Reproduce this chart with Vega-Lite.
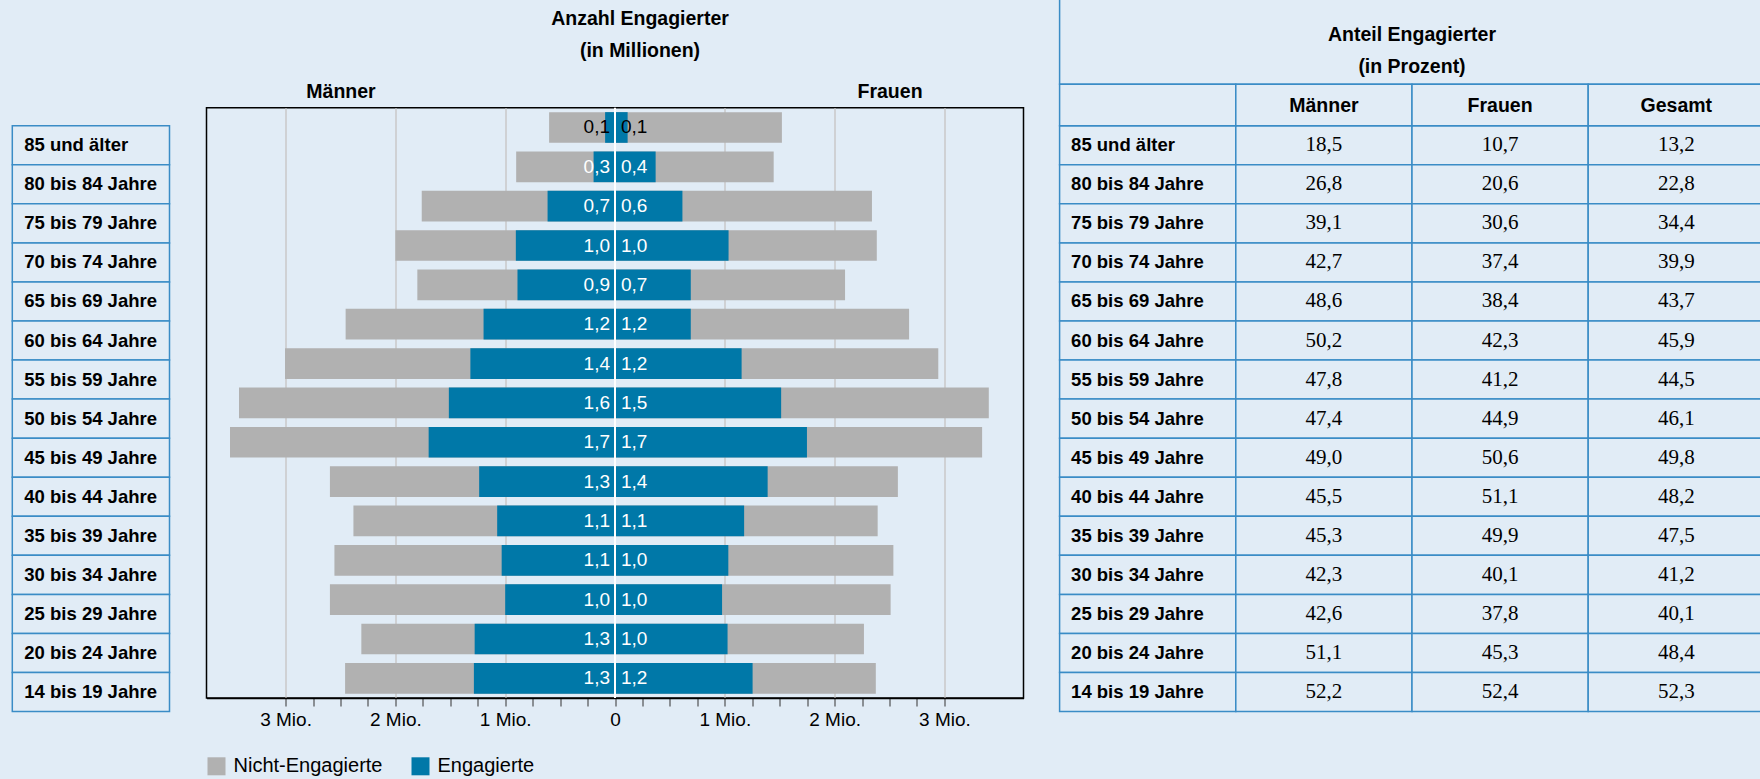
{
  "$schema": "https://vega.github.io/schema/vega-lite/v6.json",
  "width": 817,
  "height": 590.2,
  "autosize": {"type": "none"},
  "padding": {"left": 206.5, "top": 107.8, "right": 736.5, "bottom": 81},
  "background": "#e1ecf6",
  "config": {
    "view": {"stroke": "#000000", "strokeWidth": 1.5, "fill": null},
    "font": "Liberation Sans",
    "text": {"font": "Liberation Sans", "color": "#000000"},
    "locale": {"number": {"decimal": ",", "thousands": ".", "grouping": [3], "currency": ["", " €"]}}
  },
  "datasets": {
    "pyramide": [
      {"alter": "85 und älter", "geschlecht": "Männer", "gesamt": -0.60, "engagiert": -0.09, "beschriftung": 0.1},
      {"alter": "85 und älter", "geschlecht": "Frauen", "gesamt": 1.52, "engagiert": 0.115, "beschriftung": 0.1},
      {"alter": "80 bis 84 Jahre", "geschlecht": "Männer", "gesamt": -0.90, "engagiert": -0.195, "beschriftung": 0.3},
      {"alter": "80 bis 84 Jahre", "geschlecht": "Frauen", "gesamt": 1.445, "engagiert": 0.37, "beschriftung": 0.4},
      {"alter": "75 bis 79 Jahre", "geschlecht": "Männer", "gesamt": -1.76, "engagiert": -0.614, "beschriftung": 0.7},
      {"alter": "75 bis 79 Jahre", "geschlecht": "Frauen", "gesamt": 2.34, "engagiert": 0.614, "beschriftung": 0.6},
      {"alter": "70 bis 74 Jahre", "geschlecht": "Männer", "gesamt": -2.00, "engagiert": -0.903, "beschriftung": 1.0},
      {"alter": "70 bis 74 Jahre", "geschlecht": "Frauen", "gesamt": 2.384, "engagiert": 1.034, "beschriftung": 1.0},
      {"alter": "65 bis 69 Jahre", "geschlecht": "Männer", "gesamt": -1.80, "engagiert": -0.888, "beschriftung": 0.9},
      {"alter": "65 bis 69 Jahre", "geschlecht": "Frauen", "gesamt": 2.095, "engagiert": 0.69, "beschriftung": 0.7},
      {"alter": "60 bis 64 Jahre", "geschlecht": "Männer", "gesamt": -2.453, "engagiert": -1.197, "beschriftung": 1.2},
      {"alter": "60 bis 64 Jahre", "geschlecht": "Frauen", "gesamt": 2.678, "engagiert": 0.69, "beschriftung": 1.2},
      {"alter": "55 bis 59 Jahre", "geschlecht": "Männer", "gesamt": -3.005, "engagiert": -1.317, "beschriftung": 1.4},
      {"alter": "55 bis 59 Jahre", "geschlecht": "Frauen", "gesamt": 2.944, "engagiert": 1.153, "beschriftung": 1.2},
      {"alter": "50 bis 54 Jahre", "geschlecht": "Männer", "gesamt": -3.424, "engagiert": -1.513, "beschriftung": 1.6},
      {"alter": "50 bis 54 Jahre", "geschlecht": "Frauen", "gesamt": 3.404, "engagiert": 1.513, "beschriftung": 1.5},
      {"alter": "45 bis 49 Jahre", "geschlecht": "Männer", "gesamt": -3.506, "engagiert": -1.697, "beschriftung": 1.7},
      {"alter": "45 bis 49 Jahre", "geschlecht": "Frauen", "gesamt": 3.343, "engagiert": 1.748, "beschriftung": 1.7},
      {"alter": "40 bis 44 Jahre", "geschlecht": "Männer", "gesamt": -2.596, "engagiert": -1.237, "beschriftung": 1.3},
      {"alter": "40 bis 44 Jahre", "geschlecht": "Frauen", "gesamt": 2.576, "engagiert": 1.39, "beschriftung": 1.4},
      {"alter": "35 bis 39 Jahre", "geschlecht": "Männer", "gesamt": -2.382, "engagiert": -1.073, "beschriftung": 1.1},
      {"alter": "35 bis 39 Jahre", "geschlecht": "Frauen", "gesamt": 2.392, "engagiert": 1.176, "beschriftung": 1.1},
      {"alter": "30 bis 34 Jahre", "geschlecht": "Männer", "gesamt": -2.555, "engagiert": -1.032, "beschriftung": 1.1},
      {"alter": "30 bis 34 Jahre", "geschlecht": "Frauen", "gesamt": 2.535, "engagiert": 1.032, "beschriftung": 1.0},
      {"alter": "25 bis 29 Jahre", "geschlecht": "Männer", "gesamt": -2.596, "engagiert": -1.0, "beschriftung": 1.0},
      {"alter": "25 bis 29 Jahre", "geschlecht": "Frauen", "gesamt": 2.51, "engagiert": 0.975, "beschriftung": 1.0},
      {"alter": "20 bis 24 Jahre", "geschlecht": "Männer", "gesamt": -2.31, "engagiert": -1.278, "beschriftung": 1.3},
      {"alter": "20 bis 24 Jahre", "geschlecht": "Frauen", "gesamt": 2.267, "engagiert": 1.025, "beschriftung": 1.0},
      {"alter": "14 bis 19 Jahre", "geschlecht": "Männer", "gesamt": -2.458, "engagiert": -1.285, "beschriftung": 1.3},
      {"alter": "14 bis 19 Jahre", "geschlecht": "Frauen", "gesamt": 2.375, "engagiert": 1.253, "beschriftung": 1.2}
    ],
    "anteil": [
      {"alter": "85 und älter", "Männer": 18.5, "Frauen": 10.7, "Gesamt": 13.2},
      {"alter": "80 bis 84 Jahre", "Männer": 26.8, "Frauen": 20.6, "Gesamt": 22.8},
      {"alter": "75 bis 79 Jahre", "Männer": 39.1, "Frauen": 30.6, "Gesamt": 34.4},
      {"alter": "70 bis 74 Jahre", "Männer": 42.7, "Frauen": 37.4, "Gesamt": 39.9},
      {"alter": "65 bis 69 Jahre", "Männer": 48.6, "Frauen": 38.4, "Gesamt": 43.7},
      {"alter": "60 bis 64 Jahre", "Männer": 50.2, "Frauen": 42.3, "Gesamt": 45.9},
      {"alter": "55 bis 59 Jahre", "Männer": 47.8, "Frauen": 41.2, "Gesamt": 44.5},
      {"alter": "50 bis 54 Jahre", "Männer": 47.4, "Frauen": 44.9, "Gesamt": 46.1},
      {"alter": "45 bis 49 Jahre", "Männer": 49.0, "Frauen": 50.6, "Gesamt": 49.8},
      {"alter": "40 bis 44 Jahre", "Männer": 45.5, "Frauen": 51.1, "Gesamt": 48.2},
      {"alter": "35 bis 39 Jahre", "Männer": 45.3, "Frauen": 49.9, "Gesamt": 47.5},
      {"alter": "30 bis 34 Jahre", "Männer": 42.3, "Frauen": 40.1, "Gesamt": 41.2},
      {"alter": "25 bis 29 Jahre", "Männer": 42.6, "Frauen": 37.8, "Gesamt": 40.1},
      {"alter": "20 bis 24 Jahre", "Männer": 51.1, "Frauen": 45.3, "Gesamt": 48.4},
      {"alter": "14 bis 19 Jahre", "Männer": 52.2, "Frauen": 52.4, "Gesamt": 52.3}
    ],
    "kopfzeile": [
      {"spalte": "Altersgruppe", "titel": ""},
      {"spalte": "Männer", "titel": "Männer"},
      {"spalte": "Frauen", "titel": "Frauen"},
      {"spalte": "Gesamt", "titel": "Gesamt"}
    ]
  },
  "layer": [
    {
      "data": {"name": "pyramide"},
      "layer": [
        {
          "mark": {"type": "bar"},
          "encoding": {
            "y": {"field": "alter", "type": "nominal", "sort": null,
              "scale": {"domain": ["85 und älter","80 bis 84 Jahre","75 bis 79 Jahre","70 bis 74 Jahre","65 bis 69 Jahre","60 bis 64 Jahre","55 bis 59 Jahre","50 bis 54 Jahre","45 bis 49 Jahre","40 bis 44 Jahre","35 bis 39 Jahre","30 bis 34 Jahre","25 bis 29 Jahre","20 bis 24 Jahre","14 bis 19 Jahre"], "paddingInner": 0.22, "paddingOuter": 0.11},
              "axis": null},
            "x": {"field": "gesamt", "type": "quantitative", "stack": null,
              "scale": {"domain": [-3.72, 3.72], "nice": false, "zero": false},
              "axis": {"orient": "bottom", "title": null,
                "values": [-3,-2.75,-2.5,-2.25,-2,-1.75,-1.5,-1.25,-1,-0.75,-0.5,-0.25,0,0.25,0.5,0.75,1,1.25,1.5,1.75,2,2.25,2.5,2.75,3],
                "labelExpr": "datum.value == 0 ? '0' : (abs(datum.value) % 1 == 0 ? abs(datum.value) + ' Mio.' : '')",
                "labelFont": "Liberation Sans", "labelFontSize": 19, "labelColor": "#000000", "labelPadding": 4,
                "labelOverlap": false, "labelFlush": false,
                "tickSize": 8, "tickColor": "#333333", "tickWidth": 1,
                "domainColor": "#000000", "domainWidth": 1.5,
                "grid": true,
                "gridColor": {"condition": {"test": "abs(datum.value) % 1 != 0 || datum.value == 0", "value": "rgba(0,0,0,0)"}, "value": "#c8c8c8"},
                "gridWidth": 1.5}},
            "color": {"datum": "Nicht-Engagierte", "type": "nominal",
              "scale": {"domain": ["Nicht-Engagierte", "Engagierte"], "range": ["#b1b1b1", "#0078a8"]},
              "legend": {"orient": "none", "legendX": 0, "legendY": 648.5, "direction": "horizontal", "title": null,
                "symbolType": "square", "symbolSize": 324, "symbolStrokeWidth": 0, "symbolOpacity": 1,
                "labelFont": "Liberation Sans", "labelFontSize": 20, "labelColor": "#000000", "labelOffset": 7,
                "columnPadding": 28, "padding": 0, "labelLimit": 300}}
          }
        },
        {
          "mark": {"type": "bar"},
          "encoding": {
            "y": {"field": "alter", "type": "nominal", "sort": null, "axis": null},
            "x": {"field": "engagiert", "type": "quantitative", "stack": null, "axis": null},
            "color": {"datum": "Engagierte", "type": "nominal"}
          }
        },
        {
          "data": {"values": [{}]},
          "mark": {"type": "rule", "color": "#ffffff", "strokeWidth": 2},
          "encoding": {
            "x": {"datum": 0, "type": "quantitative",
              "axis": {"orient": "top", "title": null, "values": [-2.5, 2.5],
                "labelExpr": "datum.value < 0 ? 'Männer' : 'Frauen'",
                "ticks": false, "domain": false, "grid": false,
                "labelFont": "Liberation Sans", "labelFontSize": 19.5, "labelFontWeight": "bold", "labelColor": "#000000",
                "labelPadding": 6, "labelOverlap": false, "labelFlush": false}}
          }
        },
        {
          "transform": [{"filter": "datum.geschlecht == 'Männer'"}],
          "mark": {"type": "text", "align": "right", "baseline": "middle", "dx": -5, "fontSize": 19},
          "encoding": {
            "x": {"datum": 0, "type": "quantitative", "axis": null},
            "y": {"field": "alter", "type": "nominal", "sort": null, "axis": null},
            "text": {"field": "beschriftung", "type": "quantitative", "format": ".1f"},
            "color": {"condition": {"test": "datum.beschriftung < 0.2", "value": "#000000"}, "value": "#ffffff"}
          }
        },
        {
          "transform": [{"filter": "datum.geschlecht == 'Frauen'"}],
          "mark": {"type": "text", "align": "left", "baseline": "middle", "dx": 6, "fontSize": 19},
          "encoding": {
            "x": {"datum": 0, "type": "quantitative", "axis": null},
            "y": {"field": "alter", "type": "nominal", "sort": null, "axis": null},
            "text": {"field": "beschriftung", "type": "quantitative", "format": ".1f"},
            "color": {"condition": {"test": "datum.beschriftung < 0.2", "value": "#000000"}, "value": "#ffffff"}
          }
        },
        {
          "data": {"values": [{"titel": "Anzahl Engagierter\n(in Millionen)"}]},
          "mark": {"type": "text", "align": "center", "baseline": "middle", "fontSize": 19.5, "fontWeight": "bold",
            "lineBreak": "\n", "lineHeight": 31.7, "dx": 25, "dy": -108.2},
          "encoding": {
            "x": {"datum": 0, "type": "quantitative", "axis": null},
            "y": {"datum": "85 und älter", "type": "nominal", "axis": null},
            "text": {"field": "titel", "type": "nominal"}
          }
        }
      ],
      "resolve": {"axis": {"x": "independent"}}
    },
    {
      "data": {"name": "anteil"},
      "layer": [
        {
          "mark": {"type": "rect", "fill": "#e1ecf6", "stroke": "#3a8cc6", "strokeWidth": 1.5},
          "encoding": {
            "x": {"datum": "Altersgruppe", "type": "nominal", "scale": {"type": "band", "domain": ["Altersgruppe"], "range": [-194.2, -37], "padding": 0}, "axis": null},
            "y": {"field": "alter", "type": "nominal", "sort": null,
              "scale": {"type": "band", "domain": ["85 und älter","80 bis 84 Jahre","75 bis 79 Jahre","70 bis 74 Jahre","65 bis 69 Jahre","60 bis 64 Jahre","55 bis 59 Jahre","50 bis 54 Jahre","45 bis 49 Jahre","40 bis 44 Jahre","35 bis 39 Jahre","30 bis 34 Jahre","25 bis 29 Jahre","20 bis 24 Jahre","14 bis 19 Jahre"], "range": [17.9, 603.8], "padding": 0},
              "axis": null}
          }
        },
        {
          "mark": {"type": "text", "align": "left", "baseline": "middle", "dx": 12, "fontSize": 18.5, "fontWeight": "bold"},
          "encoding": {
            "x": {"datum": "Altersgruppe", "type": "nominal", "bandPosition": 0, "axis": null},
            "y": {"field": "alter", "type": "nominal", "sort": null, "axis": null},
            "text": {"field": "alter", "type": "nominal"}
          }
        }
      ]
    },
    {
      "data": {"name": "anteil"},
      "layer": [
        {
          "mark": {"type": "rect", "fill": "#e1ecf6", "stroke": "#3a8cc6", "strokeWidth": 1.5},
          "encoding": {
            "x": {"datum": "Altersgruppe", "type": "nominal", "scale": {"type": "band", "domain": ["Altersgruppe", "Männer", "Frauen", "Gesamt"], "range": [853.1, 1557.9], "padding": 0}, "axis": null},
            "y": {"field": "alter", "type": "nominal", "sort": null,
              "scale": {"type": "band", "domain": ["85 und älter","80 bis 84 Jahre","75 bis 79 Jahre","70 bis 74 Jahre","65 bis 69 Jahre","60 bis 64 Jahre","55 bis 59 Jahre","50 bis 54 Jahre","45 bis 49 Jahre","40 bis 44 Jahre","35 bis 39 Jahre","30 bis 34 Jahre","25 bis 29 Jahre","20 bis 24 Jahre","14 bis 19 Jahre"], "range": [17.9, 603.8], "padding": 0},
              "axis": null}
          }
        },
        {
          "transform": [{"fold": ["Männer", "Frauen", "Gesamt"], "as": ["spalte", "wert"]}],
          "mark": {"type": "rect", "fill": "#e1ecf6", "stroke": "#3a8cc6", "strokeWidth": 1.5},
          "encoding": {
            "x": {"field": "spalte", "type": "nominal", "axis": null},
            "y": {"field": "alter", "type": "nominal", "sort": null, "axis": null}
          }
        },
        {
          "mark": {"type": "text", "align": "left", "baseline": "middle", "dx": 11.5, "fontSize": 18.5, "fontWeight": "bold"},
          "encoding": {
            "x": {"datum": "Altersgruppe", "type": "nominal", "bandPosition": 0, "axis": null},
            "y": {"field": "alter", "type": "nominal", "sort": null, "axis": null},
            "text": {"field": "alter", "type": "nominal"}
          }
        },
        {
          "transform": [{"fold": ["Männer", "Frauen", "Gesamt"], "as": ["spalte", "wert"]}],
          "mark": {"type": "text", "align": "center", "baseline": "middle", "font": "Liberation Serif", "fontSize": 21},
          "encoding": {
            "x": {"field": "spalte", "type": "nominal", "axis": null},
            "y": {"field": "alter", "type": "nominal", "sort": null, "axis": null},
            "text": {"field": "wert", "type": "quantitative", "format": ".1f"}
          }
        }
      ]
    },
    {
      "data": {"values": [{"titel": "Anteil Engagierter\n(in Prozent)"}]},
      "layer": [
        {
          "mark": {"type": "rect", "fill": "#e1ecf6", "stroke": "#3a8cc6", "strokeWidth": 1.5},
          "encoding": {
            "x": {"datum": "Anteil", "type": "nominal", "scale": {"type": "band", "domain": ["Anteil"], "range": [853.1, 1557.9], "padding": 0}, "axis": null},
            "y": {"datum": "Anteil", "type": "nominal", "scale": {"type": "band", "domain": ["Anteil"], "range": [-160, -23.6], "padding": 0}, "axis": null}
          }
        },
        {
          "mark": {"type": "text", "align": "center", "baseline": "middle", "fontSize": 19.5, "fontWeight": "bold",
            "lineBreak": "\n", "lineHeight": 31.7, "dy": 19.3},
          "encoding": {
            "x": {"datum": "Anteil", "type": "nominal", "axis": null},
            "y": {"datum": "Anteil", "type": "nominal", "axis": null},
            "text": {"field": "titel", "type": "nominal"}
          }
        }
      ]
    },
    {
      "data": {"name": "kopfzeile"},
      "layer": [
        {
          "mark": {"type": "rect", "fill": "#e1ecf6", "stroke": "#3a8cc6", "strokeWidth": 1.5},
          "encoding": {
            "x": {"field": "spalte", "type": "nominal", "sort": null, "scale": {"type": "band", "domain": ["Altersgruppe", "Männer", "Frauen", "Gesamt"], "range": [853.1, 1557.9], "padding": 0}, "axis": null},
            "y": {"datum": "Kopfzeile", "type": "nominal", "scale": {"type": "band", "domain": ["Kopfzeile"], "range": [-23.6, 17.9], "padding": 0}, "axis": null}
          }
        },
        {
          "mark": {"type": "text", "align": "center", "baseline": "middle", "fontSize": 19.5, "fontWeight": "bold", "dy": 1},
          "encoding": {
            "x": {"field": "spalte", "type": "nominal", "sort": null, "axis": null},
            "y": {"datum": "Kopfzeile", "type": "nominal", "axis": null},
            "text": {"field": "titel", "type": "nominal"}
          }
        }
      ]
    }
  ],
  "resolve": {
    "scale": {"x": "independent", "y": "independent"},
    "axis": {"x": "independent", "y": "independent"}
  }
}
